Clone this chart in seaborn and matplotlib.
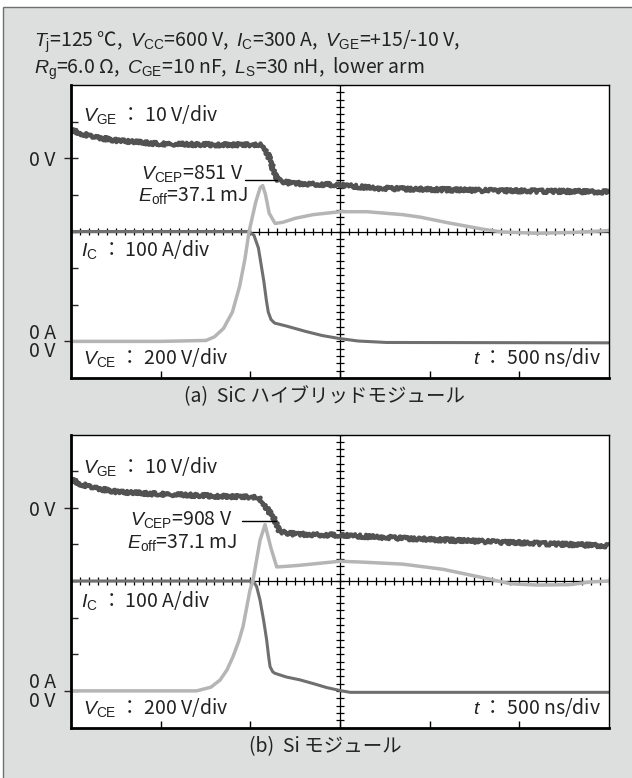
import numpy as np
import pandas as pd
import seaborn as sns
import matplotlib.pyplot as plt
from matplotlib.patches import Rectangle

# scope scales (6 x 8 divisions)
t_per_div = 500      # ns/div
vge_per_div = 10     # V/div
vce_per_div = 200    # V/div
ic_per_div = 100     # A/div
vge_zero = 6         # division of 0 V for V_GE
vce_zero = 1         # division of 0 V / 0 A for V_CE and I_C

# (a) SiC hybrid module
sic_vge_t = [0, 50, 150, 279, 500, 800, 1065, 1076, 1093, 1110, 1130, 1154, 1221, 1494, 1705, 2300, 3000]
sic_vge = [7.8, 6.8, 5.6, 4.7, 3.9, 3.7, 3.6, 3.3, 1.5, -0.5, -3.5, -6.0, -6.8, -7.3, -8.2, -8.8, -9.2]
sic_vce_t = [0, 500, 753, 800, 850, 900, 940, 970, 993, 1030, 1055, 1069, 1085, 1105, 1138, 1180,
             1250, 1350, 1500, 1650, 1850, 1950, 2100, 2300, 2400, 2600, 2800, 3000]
sic_vce = [0, 0, 5, 25, 70, 160, 300, 450, 600, 760, 840, 851, 800, 700, 644, 650,
           672, 692, 708, 708, 692, 678, 648, 612, 598, 590, 595, 605]
sic_ic_t = [0, 990, 1020, 1045, 1060, 1075, 1090, 1100, 1115, 1135, 1200, 1310, 1400, 1494, 1600, 1760, 3000]
sic_ic = [300, 300, 290, 255, 210, 165, 110, 80, 60, 50, 42, 27, 16, 8, 1, -3, -4]

# (b) Si module
si_vge_t = [0, 50, 150, 279, 505, 800, 1043, 1071, 1100, 1137, 1165, 1250, 1500, 1835, 2400, 3000]
si_vge = [7.8, 6.5, 5.2, 4.2, 3.7, 3.2, 2.8, 1.5, -0.8, -3.4, -6.6, -7.2, -7.5, -8.3, -9.4, -10.4]
si_vce_t = [0, 700, 780, 831, 870, 903, 935, 959, 998, 1015, 1054, 1082, 1115, 1147, 1200, 1277,
            1500, 1628, 1851, 2074, 2297, 2450, 2600, 2780, 2900, 3000]
si_vce = [0, 0, 20, 59, 115, 186, 270, 350, 550, 604, 822, 908, 780, 677, 680, 686,
          708, 703, 692, 664, 618, 585, 578, 580, 595, 600]
si_ic_t = [0, 1015, 1035, 1054, 1075, 1091, 1103, 1110, 1125, 1137, 1200, 1277, 1350, 1426, 1500, 1556, 3000]
si_ic = [300, 300, 285, 248, 190, 139, 90, 66, 52, 48, 38, 30, 20, 9, 1, -4, -4]

vcep_values = [851, 908]
eoff_values = [37.1, 37.1]
captions = ["(a)  SiC ハイブリッドモジュール", "(b)  Si モジュール"]

header_1 = ("$T_\\mathrm{j}$=125 ℃,  $V_\\mathrm{CC}$=600 V,  $I_\\mathrm{C}$=300 A,  "
            "$V_\\mathrm{GE}$=+15/-10 V,")
header_2 = "$R_\\mathrm{g}$=6.0 Ω,  $C_\\mathrm{GE}$=10 nF,  $L_\\mathrm{S}$=30 nH,  lower arm"

sns.set_theme(style="white")
plt.rcParams["font.family"] = ["Noto Sans CJK JP", "DejaVu Sans"]
plt.rcParams["mathtext.fontset"] = "custom"
plt.rcParams["mathtext.it"] = "Liberation Sans:italic"
plt.rcParams["mathtext.rm"] = "Liberation Sans"
plt.rcParams["mathtext.sf"] = "Liberation Sans"

W, H = 632, 778
fig = plt.figure(figsize=(W / 100, H / 100), dpi=100, facecolor="white")
fig.patches.append(Rectangle((3 / W, -0.01), 1.1, 1 - 7 / H + 0.01, transform=fig.transFigure,
                             facecolor="#dddfde", edgecolor="#707070", lw=1, zorder=-5))

fs = 14
tc = "#222222"
c_vge, c_ic, c_vce = "#525252", "#6f6f6f", "#b5b5b5"


def df_trace(t, v, per_div, zero):
    return pd.DataFrame({"t": t, "div": zero + np.array(v, dtype=float) / per_div})


def draw_panel(ax, vge, vce, ic, vcep, eoff, lab):
    ax.set_facecolor("white")
    ax.set_xlim(0, 6 * t_per_div)
    ax.set_ylim(0, 8)

    d = df_trace(*ic, ic_per_div, vce_zero)
    sns.lineplot(data=d, x="t", y="div", ax=ax, color=c_ic, lw=2.2, estimator=None, sort=False, zorder=3)
    d = df_trace(*vce, vce_per_div, vce_zero)
    sns.lineplot(data=d, x="t", y="div", ax=ax, color=c_vce, lw=2.5, estimator=None, sort=False, zorder=4)
    d = df_trace(*vge, vge_per_div, vge_zero)
    sns.lineplot(data=d, x="t", y="div", ax=ax, color=c_vge, lw=3.0, estimator=None, sort=False, zorder=5)
    ax.lines[-1].set_sketch_params(scale=1.8, length=1.2, randomness=3)

    # centre cross with fine ticks
    ax.axhline(4, color="black", lw=0.9, zorder=2)
    ax.axvline(3 * t_per_div, color="black", lw=0.9, zorder=2)
    ax.vlines(np.arange(0, 6 * t_per_div + 1, 50), 3.9, 4.1, color="black", lw=0.9, zorder=2)
    ax.hlines(np.arange(0, 8.01, 0.2), 3 * t_per_div - 21, 3 * t_per_div + 21, color="black", lw=0.9, zorder=2)

    for side in ["left", "bottom"]:
        ax.spines[side].set_linewidth(2.0)
    for side in ["top", "right"]:
        ax.spines[side].set_linewidth(1.0)
    for s in ax.spines.values():
        s.set_color("black")
        s.set_zorder(6)

    ax.set_xticks(np.arange(t_per_div, 6 * t_per_div, t_per_div))
    ax.set_xticklabels([])
    ax.tick_params(axis="x", bottom=True, direction="in", length=5, width=1, color="black")
    ax.set_yticks([vce_zero, vge_zero])
    ax.set_yticklabels(["0 A\n0 V", "0 V"], fontsize=fs, linespacing=0.85, color=tc)
    ax.set_yticks([2, 3, 4, 5, 7], minor=True)
    ax.tick_params(axis="y", which="major", left=True, direction="inout", length=10, width=1, pad=6)
    ax.tick_params(axis="y", which="minor", left=True, direction="in", length=5, width=1)
    ax.set_xlabel("")
    ax.set_ylabel("")

    ax.text(67, lab["vge"], "$V_\\mathrm{GE}$ ： 10 V/div", fontsize=fs, va="center", color=tc, zorder=7)
    ax.text(54, lab["ic"], "$I_\\mathrm{C}$ ： 100 A/div", fontsize=fs, va="center", color=tc, zorder=7)
    ax.text(65, lab["vce"], "$V_\\mathrm{CE}$ ： 200 V/div", fontsize=fs, va="center", color=tc, zorder=7)
    ax.text(2954, lab["vce"], "$t$ ： 500 ns/div", fontsize=fs, va="center", ha="right", color=tc, zorder=7)
    ax.text(lab["vcep_x"], lab["vcep_y"], "$V_\\mathrm{CEP}$=%d V" % vcep, fontsize=fs,
            ha="right", va="baseline", color=tc, zorder=7)
    ax.text(lab["eoff_x"], lab["eoff_y"], "$E_\\mathrm{off}$=%.1f mJ" % eoff, fontsize=fs,
            ha="right", va="baseline", color=tc, zorder=7)
    ax.plot(lab["line_x"], [lab["line_y"]] * 2, color="black", lw=1.0, zorder=7)


labels = [
    dict(vge=7.19, ic=3.52, vce=0.55, vcep_x=959, vcep_y=5.43, eoff_x=987, eoff_y=4.82,
         line_x=[970, 1149], line_y=5.40),
    dict(vge=7.12, ic=3.46, vce=0.545, vcep_x=898, vcep_y=5.52, eoff_x=926, eoff_y=4.89,
         line_x=[954, 1143], line_y=5.63),
]

ax_a = fig.add_axes([71 / W, 1 - 378 / H, 538 / W, 293 / H])
ax_b = fig.add_axes([71 / W, 1 - 727.5 / H, 538 / W, 293 / H])

draw_panel(ax_a, (sic_vge_t, sic_vge), (sic_vce_t, sic_vce), (sic_ic_t, sic_ic),
           vcep_values[0], eoff_values[0], labels[0])
draw_panel(ax_b, (si_vge_t, si_vge), (si_vce_t, si_vce), (si_ic_t, si_ic),
           vcep_values[1], eoff_values[1], labels[1])

fig.text(34 / W, 1 - 47 / H, header_1, fontsize=fs, ha="left", va="baseline", color=tc)
fig.text(34 / W, 1 - 74 / H, header_2, fontsize=fs, ha="left", va="baseline", color=tc)
fig.text(325 / W, 1 - 397 / H, captions[0], fontsize=fs, ha="center", va="center", color=tc)
fig.text(325 / W, 1 - 747 / H, captions[1], fontsize=fs, ha="center", va="center", color=tc)

fig.savefig("out.png", dpi=100, facecolor="white")
